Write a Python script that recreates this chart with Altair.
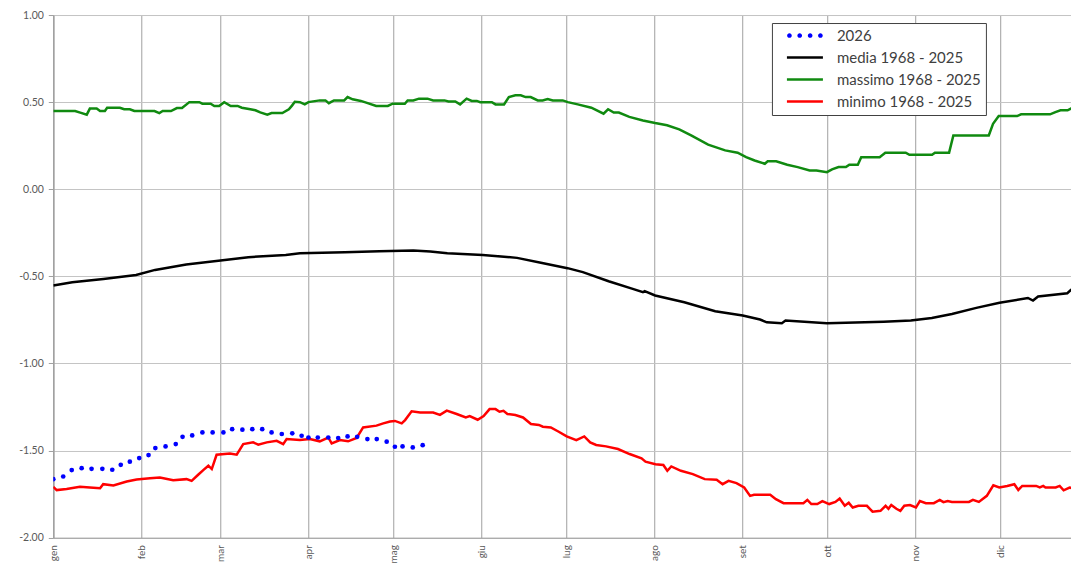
import altair as alt
import pandas as pd

MONTHS = ["gen", "feb", "mar", "apr", "mag", "giu", "lug", "ago", "set", "ott", "nov", "dic"]
MONTH_START_DAYS = [0, 31, 59, 90, 120, 151, 181, 212, 243, 273, 304, 334]
Y_TICKS = [-2.0, -1.5, -1.0, -0.5, 0.0, 0.5, 1.0]

SERIES = ["2026", "media 1968 - 2025", "massimo 1968 - 2025", "minimo 1968 - 2025"]
COLORS = ["#0000ff", "#000000", "#108a10", "#ff0000"]

Y2026_DAYS = [0, 3.5, 6.5, 10, 13.5, 17.3, 20.8, 23.8, 27, 30.3, 33.6, 36, 39.6, 43.2, 45.6, 49,
              52.6, 56.2, 60, 63.1, 66.7, 70.2, 73.7, 77, 80.6, 84.3, 87.6, 90, 93.3, 97, 100.5,
              103.8, 107.2, 110.8, 114.1, 117.6, 120.5, 123.2, 126.8, 130.3]
Y2026_VALS = [-1.664, -1.649, -1.612, -1.601, -1.605, -1.605, -1.61, -1.582, -1.564, -1.543,
              -1.526, -1.486, -1.476, -1.463, -1.421, -1.413, -1.396, -1.396, -1.396, -1.377,
              -1.38, -1.377, -1.377, -1.396, -1.405, -1.401, -1.415, -1.425, -1.425, -1.425,
              -1.428, -1.419, -1.421, -1.434, -1.434, -1.449, -1.478, -1.476, -1.482, -1.469]

MEDIA_DAYS = [0, 6.7, 17.7, 29.2, 35.9, 46.9, 59, 68.8, 82, 87, 102.8, 115, 127, 133, 139, 151.5,
              163.6, 172, 181.4, 186.8, 195.9, 204.4, 208, 208.6, 212.3, 222.6, 233.5, 243.2,
              249.3, 251.7, 257, 258.3, 272.9, 292.9, 302.5, 309.9, 317, 325.6, 333.8, 343.8,
              345.6, 347.4, 357.7, 359, 362]
MEDIA_VALS = [-0.553, -0.534, -0.515, -0.492, -0.463, -0.432, -0.409, -0.39, -0.377, -0.367,
              -0.361, -0.356, -0.352, -0.357, -0.367, -0.377, -0.394, -0.422, -0.453, -0.476,
              -0.528, -0.572, -0.591, -0.585, -0.61, -0.649, -0.70, -0.725, -0.748, -0.764,
              -0.769, -0.754, -0.769, -0.76, -0.754, -0.739, -0.716, -0.681, -0.652, -0.624,
              -0.639, -0.616, -0.597, -0.578, -0.585]

MAX_DAYS = [0, 7.7, 9.5, 11.8, 12.9, 15.3, 16.5, 18.2, 19, 23.5, 25, 27, 28.6, 35.7, 37.4, 38.6,
            41.5, 43.6, 45.4, 48, 51.5, 52.6, 55.5, 56.8, 58.5, 60.3, 62.6, 65, 66.5, 69.5, 71.3,
            73, 75.5, 77, 80.8, 83.1, 84.2, 85.2, 87, 88.7, 90, 94, 96, 97.2, 99, 102.6, 103.8,
            105.6, 108.5, 110.9, 113.9, 118, 119.7, 124, 125, 127, 129, 132, 134, 138, 139.4,
            141.8, 143.5, 145.8, 147.6, 149.4, 150.6, 154.7, 156, 159, 160.7, 163, 164.9, 166.6,
            168.4, 170.9, 172.6, 174.4, 176.2, 179.7, 181.5, 185, 189.8, 194.1, 195.7, 197.7,
            199.5, 203.2, 208, 212.3, 216.5, 220.8, 225, 231, 237, 241.4, 244.4, 247.4, 251, 252,
            255, 258.9, 262.6, 266.8, 269.2, 272.9, 274.7, 277, 279.6, 280.8, 283.8, 285, 291.5,
            293.5, 300.7, 302, 310, 311, 316, 317.5, 330, 331.5, 333.5, 340, 341.4, 351.6, 353.5,
            355.3, 357.8, 359, 362]
MAX_VALS = [0.449, 0.449, 0.44, 0.428, 0.463, 0.463, 0.449, 0.449, 0.468, 0.468, 0.459, 0.459,
            0.449, 0.449, 0.437, 0.449, 0.449, 0.466, 0.466, 0.50, 0.50, 0.491, 0.491, 0.478,
            0.478, 0.50, 0.478, 0.478, 0.468, 0.459, 0.453, 0.441, 0.428, 0.437, 0.437, 0.459,
            0.48, 0.502, 0.50, 0.487, 0.50, 0.51, 0.51, 0.494, 0.51, 0.51, 0.529, 0.516, 0.507,
            0.494, 0.478, 0.478, 0.491, 0.491, 0.51, 0.51, 0.52, 0.52, 0.51, 0.51, 0.504, 0.504,
            0.487, 0.52, 0.507, 0.507, 0.50, 0.50, 0.487, 0.487, 0.529, 0.539, 0.539, 0.529,
            0.529, 0.51, 0.51, 0.518, 0.51, 0.51, 0.50, 0.487, 0.468, 0.434, 0.459, 0.44, 0.44,
            0.415, 0.395, 0.38, 0.367, 0.344, 0.309, 0.256, 0.223, 0.21, 0.184, 0.165, 0.146,
            0.16, 0.16, 0.141, 0.127, 0.108, 0.108, 0.098, 0.114, 0.127, 0.127, 0.141, 0.141,
            0.184, 0.184, 0.21, 0.21, 0.198, 0.198, 0.21, 0.21, 0.309, 0.309, 0.376, 0.42, 0.42,
            0.43, 0.43, 0.443, 0.453, 0.453, 0.463, 0.463]

MIN_DAYS = [0, 1.2, 4.7, 9.4, 12.9, 16.5, 17.6, 21.2, 25.9, 29.4, 34.1, 37.6, 42.3, 47, 48.8,
            51.1, 52.9, 54.7, 55.9, 57.6, 62.3, 64.7, 67, 70.5, 72.3, 75.3, 78.8, 81.1, 82.3, 87,
            90.5, 94, 97, 98.2, 101.1, 104, 107, 109.3, 114, 116.4, 118.8, 120.5, 122.9, 124.1,
            126.4, 129.4, 134, 136.4, 138.8, 142.3, 145.5, 146.9, 149.7, 151.8, 153.9, 156, 157.4,
            158.8, 160.2, 163, 165.7, 168.5, 171.3, 172.7, 175.5, 178.3, 181.1, 184.5, 187.3,
            189.4, 191.5, 195, 199.2, 203.3, 207.5, 208.9, 212.4, 215.2, 216.6, 218, 221.4, 225.6,
            229.8, 234, 236.1, 238.2, 241, 243.7, 245.8, 247.2, 252.9, 254.9, 257.6, 264.6, 266,
            267.4, 269.5, 271.3, 273.7, 275.9, 277.4, 279.2, 280.6, 282, 284, 287, 289, 291.8,
            293.6, 294.6, 295.6, 297.4, 298.8, 300.2, 302.2, 304.3, 305.7, 307.8, 310.6, 312.7,
            314, 315.5, 317, 323, 324.4, 326.5, 329.3, 331.6, 333.7, 336.5, 339, 340.4, 341.8,
            346.7, 348, 349.2, 350, 353.6, 355, 356.4, 358.5, 359.9, 362]
MIN_VALS = [-1.708, -1.727, -1.721, -1.708, -1.712, -1.716, -1.693, -1.70, -1.678, -1.666, -1.659,
            -1.655, -1.67, -1.664, -1.674, -1.639, -1.612, -1.587, -1.606, -1.524, -1.517, -1.524,
            -1.463, -1.453, -1.466, -1.453, -1.444, -1.463, -1.434, -1.44, -1.434, -1.447, -1.425,
            -1.459, -1.44, -1.447, -1.428, -1.367, -1.357, -1.344, -1.333, -1.33, -1.344, -1.325,
            -1.275, -1.282, -1.282, -1.295, -1.271, -1.29, -1.31, -1.302, -1.323, -1.302, -1.262,
            -1.262, -1.277, -1.272, -1.29, -1.296, -1.31, -1.348, -1.353, -1.363, -1.367, -1.392,
            -1.419, -1.44, -1.419, -1.453, -1.468, -1.476, -1.491, -1.52, -1.545, -1.564, -1.578,
            -1.583, -1.616, -1.591, -1.616, -1.635, -1.664, -1.668, -1.693, -1.674, -1.687,
            -1.712, -1.76, -1.754, -1.754, -1.779, -1.802, -1.802, -1.783, -1.807, -1.807, -1.79,
            -1.807, -1.795, -1.775, -1.817, -1.80, -1.827, -1.817, -1.817, -1.851, -1.846,
            -1.817, -1.834, -1.813, -1.834, -1.846, -1.817, -1.813, -1.827, -1.79, -1.802,
            -1.802, -1.783, -1.796, -1.79, -1.795, -1.795, -1.783, -1.795, -1.76, -1.699, -1.712,
            -1.703, -1.693, -1.726, -1.703, -1.703, -1.712, -1.703, -1.712, -1.712, -1.703,
            -1.728, -1.712, -1.718, -1.745]

# legend symbol shapes (unit square paths)
_r = 0.13
DOTS_PATH = "".join(
    f"M{c - _r:.3f},0A{_r},{_r} 0 1,1 {c + _r:.3f},0A{_r},{_r} 0 1,1 {c - _r:.3f},0Z"
    for c in [-0.86, -0.29, 0.29, 0.86]
)
LINE_PATH = "M-1,-0.07L1,-0.07L1,0.07L-1,0.07Z"
SHAPES = [DOTS_PATH, LINE_PATH, LINE_PATH, LINE_PATH]

rows = []
for name, days, vals in [(SERIES[1], MEDIA_DAYS, MEDIA_VALS),
                         (SERIES[2], MAX_DAYS, MAX_VALS),
                         (SERIES[3], MIN_DAYS, MIN_VALS)]:
    rows += [{"series": name, "day": d, "value": v} for d, v in zip(days, vals)]
lines_df = pd.DataFrame(rows)
dots_df = pd.DataFrame({"series": SERIES[0], "day": Y2026_DAYS, "value": Y2026_VALS})
# legend-only entries, placed outside the x domain so they are clipped away
legend_df = pd.DataFrame({"label": SERIES, "day": [-100] * 4, "value": [0.0] * 4})

x_scale = alt.Scale(domain=[0, 359], nice=False, zero=False)
y_scale = alt.Scale(domain=[-2, 1], nice=False, zero=False)

month_expr = ("[" + ",".join(f"'{m}'" for m in MONTHS) + "][indexof(["
              + ",".join(str(d) for d in MONTH_START_DAYS) + "], datum.value)]")

x_axis = alt.Axis(values=MONTH_START_DAYS, labelExpr=month_expr, labelAngle=270, ticks=False,
                  labelPadding=7, grid=True, gridColor="#a0a0a0", gridWidth=1,
                  domainColor="#a0a0a0", domainWidth=1, labelFontSize=10,
                  labelColor="#595959", title=None, labelFont="Lato")
y_axis = alt.Axis(values=Y_TICKS,
                  labelExpr="datum.value < 0 ? '-' + format(-datum.value, '.2f') : format(datum.value, '.2f')",
                  tickSize=5, tickColor="#a0a0a0", labelPadding=5, grid=True,
                  gridColor="#c4c4c4", gridWidth=1, domainColor="#a0a0a0", domainWidth=1.5,
                  labelFontSize=10.5, labelColor="#595959", title=None, labelFont="Lato")

# line colours use a scale over the three line series only (distinct from the legend scales)
lines = alt.Chart(lines_df).mark_line(strokeWidth=2.5, clip=True).encode(
    x=alt.X("day:Q", scale=x_scale, axis=x_axis),
    y=alt.Y("value:Q", scale=y_scale, axis=y_axis),
    stroke=alt.Stroke("series:N", scale=alt.Scale(domain=SERIES[1:], range=COLORS[1:]), legend=None),
)

dots = alt.Chart(dots_df).mark_circle(size=22, opacity=1, color="#0000ff", clip=True).encode(
    x=alt.X("day:Q", scale=x_scale),
    y=alt.Y("value:Q", scale=y_scale),
)

leg = alt.Legend(title=None, orient="none", legendX=718.7, legendY=8, padding=5,
                 strokeColor="#404040", fillColor="white", symbolSize=1296, clipHeight=15,
                 symbolStrokeWidth=0, symbolOpacity=1, symbolOffset=10, labelOffset=14,
                 labelFont="Lato", labelFontSize=15, labelColor="#404040", rowPadding=6)

legend_layer = alt.Chart(legend_df).mark_point(filled=True, opacity=1, clip=True).encode(
    x=alt.X("day:Q", scale=x_scale),
    y=alt.Y("value:Q", scale=y_scale),
    fill=alt.Fill("label:N", scale=alt.Scale(domain=SERIES, range=COLORS), legend=leg),
    shape=alt.Shape("label:N", scale=alt.Scale(domain=SERIES, range=SHAPES), legend=leg),
)

chart = alt.layer(lines, dots, legend_layer).properties(
    width=1017.8,
    height=522.7,
    autosize=alt.AutoSizeParams(type="none"),
    padding={"left": 45.3, "top": 7, "right": 0, "bottom": 27},
).configure_view(strokeWidth=0)

chart.save("out.html", embed_options={"renderer": "svg", "actions": False})
